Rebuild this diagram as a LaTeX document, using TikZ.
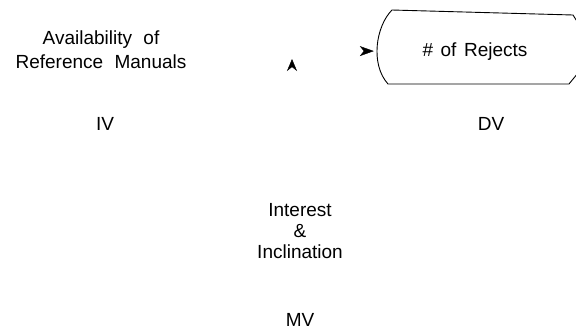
\documentclass[tikz,border=0pt]{standalone}
\usepackage{fontspec}
\setmainfont{Liberation Sans}
\usetikzlibrary{arrows.meta}
\begin{document}
\begin{tikzpicture}[x=1pt,y=-1pt,
  lbl/.style={inner sep=0pt,align=center,font=\fontsize{19}{24}\selectfont},
  ghost/.style={draw=white,line width=0.4pt,-{Stealth[black,length=14pt,width=10pt,inset=4pt]}},
  outline/.style={draw=black,line width=0.9pt,line join=round}]
\useasboundingbox (0,0) rectangle (576,330);
% independent variable (base anchor = baseline of the last line)
\node[lbl,anchor=base] (iv) at (101,68) {Availability\hspace{0.6em}of\\Reference\hspace{0.6em}Manuals};
\node[lbl,anchor=base] (ivlab) at (105,130) {IV};
% dependent variable: outlined box with a bulging left side
\node[lbl,anchor=base,minimum width=202pt] (dv) at (475,56) {\#\hspace{0.4em}of\hspace{0.4em}Rejects};
\node[lbl,anchor=base] (dvlab) at (491,130) {DV};
\draw[outline] (578,23) -- (573,15) -- (392,10)
  .. controls (376,26) and (370,64) .. (388,84) -- (569,84) -- (578,73);
% moderating variable
\node[lbl,anchor=base,font=\fontsize{19}{21}\selectfont] (mv) at (300,258) {Interest\\\&\\Inclination};
\node[lbl,anchor=base] (mvlab) at (300,326) {MV};
% connectors: only their arrow tips show
\coordinate (modtip) at (292,59);
\draw[ghost] (iv.east |- dv.west) -- (dv.west);
\draw[ghost,-{Stealth[black,length=12pt,width=10pt,inset=4pt]}] (mv.north -| modtip) -- (modtip);
\end{tikzpicture}
\end{document}
